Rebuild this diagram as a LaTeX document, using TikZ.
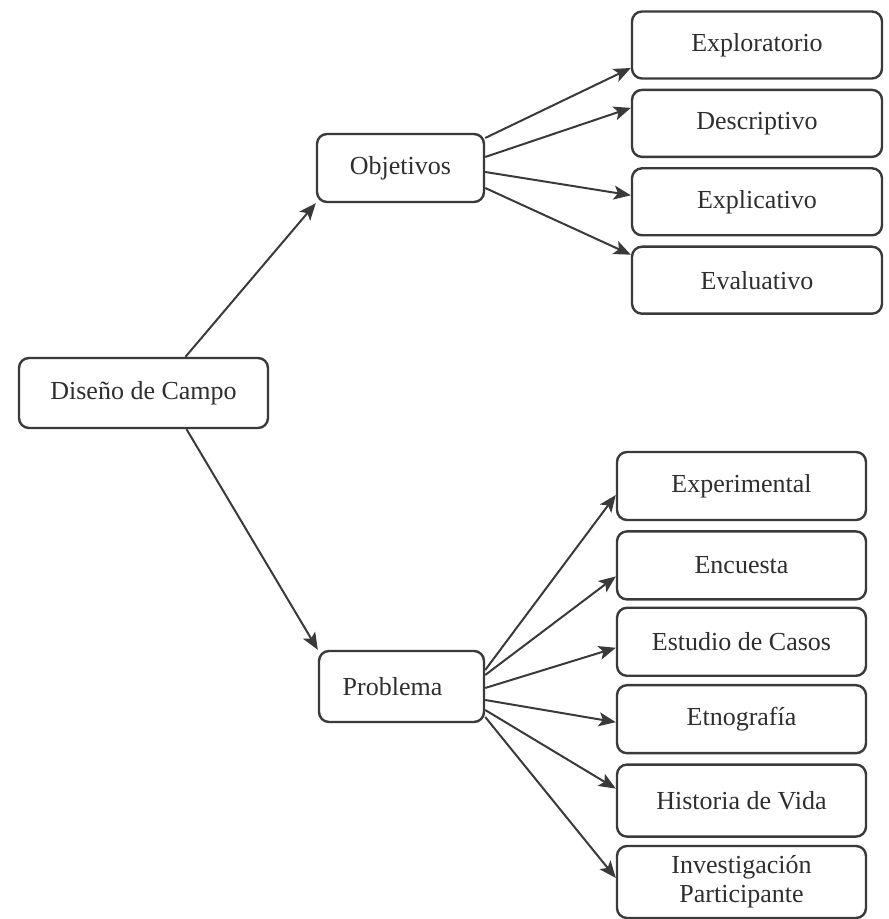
\documentclass[tikz,border=0pt]{standalone}
\usepackage{fontspec}
\setmainfont{Liberation Serif}
\usetikzlibrary{arrows.meta,positioning}
\definecolor{ink}{HTML}{3A3A3A}

\begin{document}
\begin{tikzpicture}[x=0.5pt, y=0.5pt,
    box/.style={draw=ink, line width=1.2pt, rounded corners=5pt, align=center, text=ink!80!black, font=\fontsize{13}{15}\selectfont, inner sep=3pt},
    item/.style={box, minimum width=125pt, minimum height=33.5pt},
    itemb/.style={box, minimum width=124.5pt, minimum height=34pt},
    arr/.style={-{Stealth[length=8.5pt, width=7pt, inset=2pt]}, draw=ink, line width=1pt}
]
\useasboundingbox (0,0) rectangle (888,919);
\node[box, minimum width=124.5pt, minimum height=35pt] (dis) at (143.5,526) {Diseño de Campo};
\node[box, minimum width=83.5pt, minimum height=34pt] (obj) at (400.5,751) {Objetivos};
\node[box, minimum width=82.5pt, minimum height=35.5pt] (prob) at (401.5,232.5) {Problema\hspace{9pt}};
% objetivos
\node[item] (explo) at (757,874) {Exploratorio};
\node[item, below=4.5pt of explo] (descr) {Descriptivo};
\node[item, below=4.5pt of descr] (expli) {Explicativo};
\node[item, below=4.5pt of expli] (eval) {Evaluativo};
% problema
\node[itemb] (exper) at (741.5,433) {Experimental};
\node[itemb, below=4.5pt of exper] (encu) {Encuesta};
\node[itemb, below=3pt of encu] (estud) {Estudio de Casos};
\node[itemb, below=3.5pt of estud] (etno) {Etnografía};
\node[itemb, below=4.5pt of etno, minimum height=36pt] (hist) {Historia de Vida};
\node[itemb, below=3.5pt of hist, minimum height=36pt, font=\fontsize{13}{14.5}\selectfont] (inv) {Investigación\\Participante};
\draw[arr] ([xshift=21pt]dis.north) -- (obj.south west);
\draw[arr] ([xshift=21.5pt]dis.south) -- (prob.north west);
\draw[arr] ([yshift=15pt]obj.east) -- ([yshift=-11.5pt]explo.west);
\draw[arr] ([yshift=5.5pt]obj.east) -- ([yshift=7.75pt]descr.west);
\draw[arr] ([yshift=-2pt]obj.east) -- ([yshift=3.25pt]expli.west);
\draw[arr] ([yshift=-10pt]obj.east) -- ([yshift=12.75pt]eval.west);
\draw[arr] ([yshift=8.25pt]prob.east) -- ([yshift=-4.5pt]exper.west);
\draw[arr] ([yshift=5.75pt]prob.east) -- ([yshift=-5.5pt]encu.west);
\draw[arr] ([yshift=-0.75pt]prob.east) -- ([yshift=-3pt]estud.west);
\draw[arr] ([yshift=-6.75pt]prob.east) -- ([yshift=-1.5pt]etno.west);
\draw[arr] ([yshift=-11.75pt]prob.east) -- ([yshift=6pt]hist.west);
\draw[arr] ([yshift=-15.25pt]prob.east) -- ([yshift=2pt]inv.west);
\end{tikzpicture}
\end{document}
